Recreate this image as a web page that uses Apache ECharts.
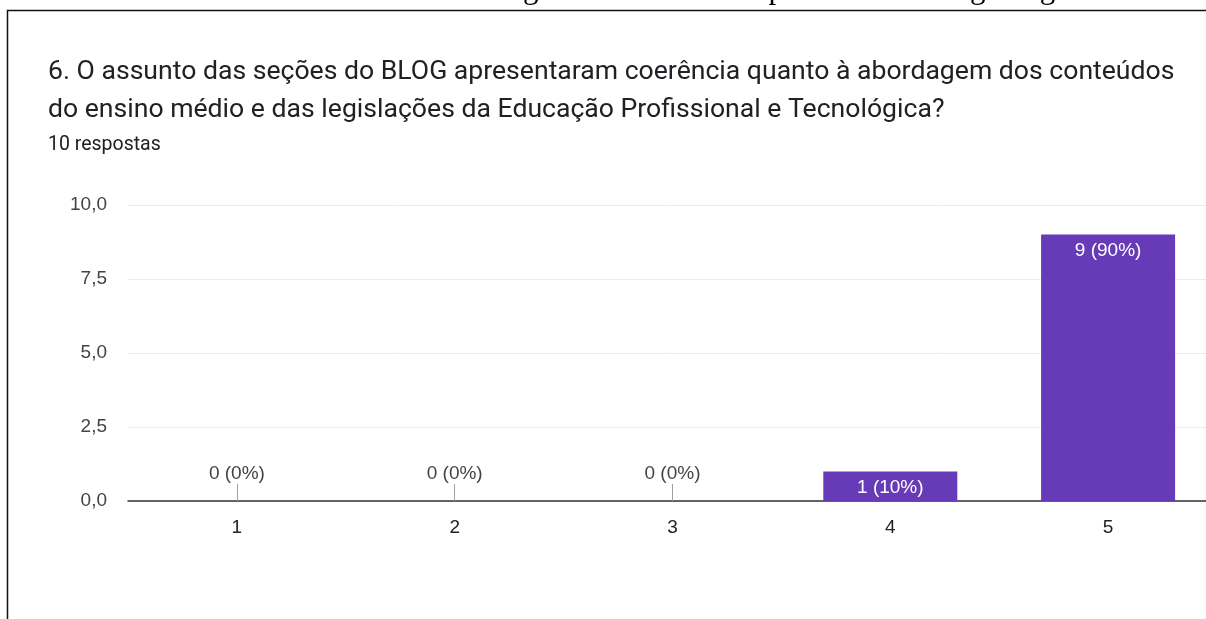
<!DOCTYPE html>
<html>
<head>
<meta charset="utf-8">
<script src="https://cdn.jsdelivr.net/npm/echarts@6/dist/echarts.min.js"></script>
<style>
  html, body { margin: 0; padding: 0; background: #fff; }
  #chart { width: 1206px; height: 619px; }
</style>
</head>
<body>
<div id="chart"></div>
<script>
const categories = ['1', '2', '3', '4', '5'];
const counts = [0, 0, 0, 1, 9];
const yTicks = [0, 2.5, 5, 7.5, 10];
const titleText = '6. O assunto das seções do BLOG apresentaram coerência quanto à abordagem dos conteúdos\ndo ensino médio e das legislações da Educação Profissional e Tecnológica?';
const subtitleText = '10 respostas';
const captionText = 'Gráfico 6 – Resultados relativos à abordagem dos conteúdos presentes no blog integrado';

const total = counts.reduce((a, b) => a + b, 0);
const seriesData = counts.map(v => ({
  value: v,
  label: v > 0
    ? { position: 'insideTop', distance: 7, color: '#ffffff' }
    : { position: 'top', distance: 18, color: '#444444' }
}));

const chart = echarts.init(document.getElementById('chart'), null, { renderer: 'canvas' });
chart.setOption({
  animation: false,
  backgroundColor: '#ffffff',
  title: {
    text: titleText,
    subtext: subtitleText,
    left: 43,
    top: 48,
    itemGap: 6,
    textStyle: {
      fontFamily: 'Roboto',
      fontSize: 26.6,
      fontWeight: 'normal',
      color: '#202124',
      lineHeight: 38
    },
    subtextStyle: {
      fontFamily: 'Roboto',
      fontSize: 19.5,
      color: '#202124'
    }
  },
  graphic: [
    {
      type: 'rect',
      silent: true,
      shape: { x: 7.5, y: 10.5, width: 1400, height: 800 },
      style: { fill: 'none', stroke: '#111111', lineWidth: 1.5 }
    },
    {
      type: 'text',
      silent: true,
      x: 10,
      y: -25.5,
      style: {
        text: captionText,
        font: '31px "Liberation Serif"',
        fill: '#000000'
      }
    }
  ],
  grid: { left: 128, top: 205, width: 1089, height: 296, outerBoundsMode: 'none', containLabel: false },
  xAxis: {
    type: 'category',
    data: categories,
    axisLine: { lineStyle: { color: '#333333', width: 1.5 } },
    axisTick: { show: true, inside: true, alignWithLabel: true, length: 17, lineStyle: { color: '#9e9e9e', width: 1 } },
    axisLabel: { fontFamily: 'Liberation Sans', fontSize: 19, color: '#222222', margin: 17 },
    splitLine: { show: false }
  },
  yAxis: {
    type: 'value',
    min: yTicks[0],
    max: yTicks[yTicks.length - 1],
    interval: yTicks[1] - yTicks[0],
    axisLine: { show: false },
    axisTick: { show: false },
    axisLabel: {
      fontFamily: 'Liberation Sans',
      fontSize: 19,
      color: '#444444',
      margin: 21,
      formatter: v => v.toFixed(1).replace('.', ',')
    },
    splitLine: { lineStyle: { color: '#ebebeb', width: 1 } }
  },
  series: [{
    type: 'bar',
    data: seriesData,
    barWidth: 134,
    itemStyle: { color: '#673ab7' },
    label: {
      show: true,
      fontFamily: 'Liberation Sans',
      fontSize: 19,
      formatter: p => p.value + ' (' + Math.round(p.value / total * 100) + '%)'
    }
  }]
});
</script>
</body>
</html>
